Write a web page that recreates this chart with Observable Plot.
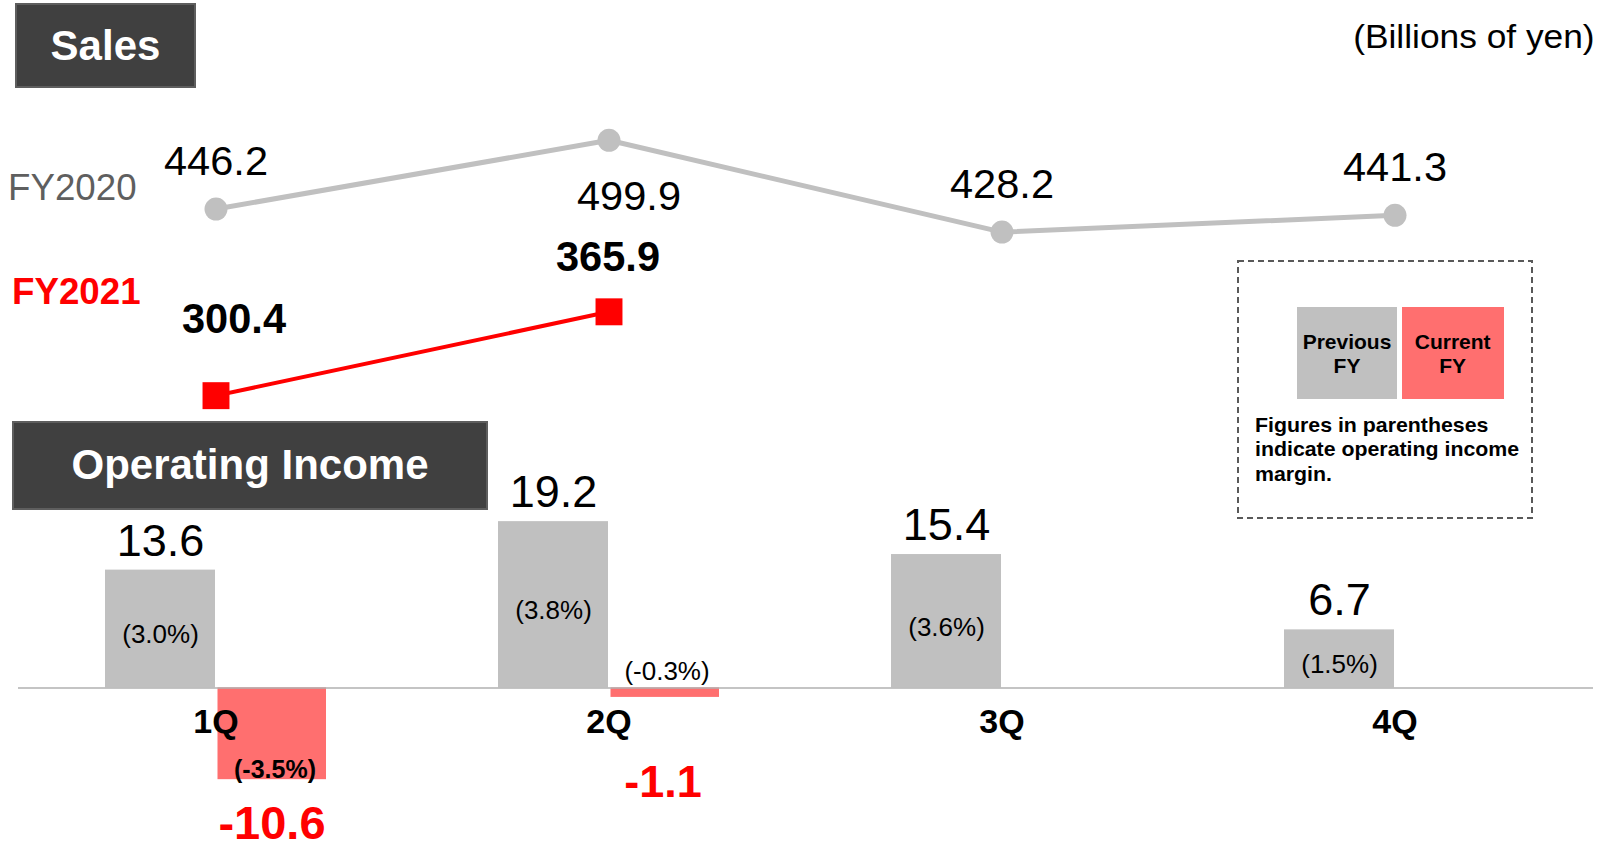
<!DOCTYPE html>
<html>
<head>
<meta charset="utf-8">
<script src="https://cdn.jsdelivr.net/npm/d3@7"></script>
<script src="https://cdn.jsdelivr.net/npm/@observablehq/plot@0.6"></script>
<style>
  body { margin: 0; background: #fff; font-family: "Liberation Sans", Arial, sans-serif; }
  #wrap { position: relative; width: 1604px; height: 850px; overflow: hidden; background: #fff; }
  #wrap svg.plot { position: absolute; left: 0; }
  .tag { position: absolute; box-sizing: border-box; background: #404040; border: 2px solid #5e5e5e;
         color: #fff; font-weight: bold; font-size: 42px; line-height: 1;
         display: flex; align-items: center; justify-content: center; }
  .note { position: absolute; line-height: 1; white-space: nowrap; }
  .swatch { position: absolute; box-sizing: border-box; display: flex; align-items: center; justify-content: center;
            text-align: center; font-weight: bold; font-size: 21px; line-height: 24px; color: #000; }
</style>
</head>
<body>
<div id="wrap"></div>
<script>
// ---------- data ----------
const quarters = ["1Q", "2Q", "3Q", "4Q"];
const salesPrev = [446.2, 499.9, 428.2, 441.3];      // FY2020
const salesCur = [300.4, 365.9];                      // FY2021
const oiPrev = [13.6, 19.2, 15.4, 6.7];               // FY2020 operating income
const oiCur = [-10.6, -1.1];                          // FY2021 operating income
const marginPrev = ["(3.0%)", "(3.8%)", "(3.6%)", "(1.5%)"];
const marginCur = ["(-3.5%)", "(-0.3%)"];
const seriesNames = ["FY2020", "FY2021"];

// tables built from the arrays
const sPrev = salesPrev.map((v, i) => ({q: quarters[i], v}));
const sCur = salesCur.map((v, i) => ({q: quarters[i], v}));
const oPrev = oiPrev.map((v, i) => ({q: quarters[i], v, m: marginPrev[i]}));
const oCur = oiCur.map((v, i) => ({q: quarters[i], v, m: marginCur[i]}));

const font = "'Liberation Sans', Arial, Helvetica, sans-serif";
const xScale = {type: "band", domain: quarters, paddingInner: 0.4364, paddingOuter: 0.2178, align: 0.5, axis: null};
const common = {width: 1604, marginLeft: 18, marginRight: 11, marginTop: 0, marginBottom: 0,
  style: {fontFamily: font, background: "transparent", overflow: "visible"}};

const GRAY = "#c0c0c0", RED_BAR = "#ff6f6f", RED = "#ff0000";

// ---------- Sales ----------
const fmt = d => d.v.toFixed(1);
const salesChart = Plot.plot({
  ...common,
  height: 420,
  x: xScale,
  y: {domain: [281.0, 609.1], axis: null},
  marks: [
    Plot.line(sPrev, {x: "q", y: "v", stroke: GRAY, strokeWidth: 5}),
    Plot.dot(sPrev, {x: "q", y: "v", r: 11.5, fill: GRAY}),
    Plot.line(sCur, {x: "q", y: "v", stroke: RED, strokeWidth: 4}),
    Plot.dot(sCur, {x: "q", y: "v", r: 15.2, symbol: "square", fill: RED}),
    Plot.text(sPrev.filter(d => d.q !== "2Q"), {x: "q", y: "v", text: fmt, lineAnchor: "bottom", dy: -34, fontSize: 41, fill: "#000"}),
    Plot.text(sPrev.filter(d => d.q === "2Q"), {x: "q", y: "v", text: fmt, lineAnchor: "bottom", dx: 20, dy: 70, fontSize: 41, fill: "#000"}),
    Plot.text(sCur.filter(d => d.q === "1Q"), {x: "q", y: "v", text: fmt, lineAnchor: "bottom", dx: 18, dy: -62.8, fontSize: 42, fontWeight: "bold", fill: "#000"}),
    Plot.text(sCur.filter(d => d.q === "2Q"), {x: "q", y: "v", text: fmt, lineAnchor: "bottom", dx: -1, dy: -41.3, fontSize: 42, fontWeight: "bold", fill: "#000"})
  ]
});
salesChart.classList.add("plot");
salesChart.style.top = "0px";

// ---------- Operating income ----------
const incomeChart = Plot.plot({
  ...common,
  height: 430,
  x: xScale,
  y: {domain: [-18.78, 30.88], axis: null},
  marks: [
    Plot.barY(oPrev, {x: "q", y: "v", fill: GRAY, insetRight: 111}),
    Plot.barY(oCur, {x: "q", y: "v", fill: RED_BAR, insetLeft: 112.5}),
    Plot.ruleY([0], {stroke: "#b0b0b0", strokeWidth: 1.5}),
    Plot.text(quarters, {x: d => d, y: () => 0, text: d => d, lineAnchor: "bottom", dy: 45, fontSize: 34, fontWeight: "bold", fill: "#000"}),
    Plot.text(oPrev, {x: "q", y: "v", text: fmt, lineAnchor: "bottom", dx: -55.5, dy: -14.5, fontSize: 45, fill: "#000"}),
    Plot.text(oPrev, {x: "q", y: d => d.v / 2, text: "m", lineAnchor: "middle", dx: -55.5, dy: 6, fontSize: 26, fill: "#000"}),
    // current FY margin: inside the bar when it is tall, above the baseline when it is thin
    Plot.text(oCur.filter(d => Math.abs(d.v) > 5), {x: "q", y: "v", text: "m", lineAnchor: "middle", dx: 59, dy: -10, fontSize: 25, fontWeight: "bold", fill: "#000"}),
    Plot.text(oCur.filter(d => Math.abs(d.v) <= 5), {x: "q", y: () => 0, text: "m", lineAnchor: "middle", dx: 58, dy: -16.5, fontSize: 26, fill: "#000"}),
    Plot.text(oCur.filter(d => Math.abs(d.v) > 5), {x: "q", y: "v", text: fmt, lineAnchor: "bottom", dx: 56, dy: 59, fontSize: 47, fontWeight: "bold", fill: RED}),
    Plot.text(oCur.filter(d => Math.abs(d.v) <= 5), {x: "q", y: "v", text: fmt, lineAnchor: "bottom", dx: 54, dy: 99.7, fontSize: 45, fontWeight: "bold", fill: RED})
  ]
});
incomeChart.classList.add("plot");
incomeChart.style.top = "420px";

const wrap = document.getElementById("wrap");
wrap.appendChild(salesChart);
wrap.appendChild(incomeChart);

// the sales figures are set in a horizontally widened face
salesChart.querySelectorAll('g[aria-label="text"] text').forEach(t => {
  t.setAttribute("lengthAdjust", "spacingAndGlyphs");
  t.setAttribute("textLength", "104");
});

// ---------- headings, series names, unit, legend ----------
function add(html) { wrap.insertAdjacentHTML("beforeend", html); }
add(`<div class="tag" style="left:15px;top:3px;width:181px;height:85px;">Sales</div>`);
add(`<div class="tag" style="left:12px;top:420.5px;width:476px;height:89.5px;">Operating Income</div>`);
add(`<div class="note" style="right:9px;top:20px;font-size:33px;color:#000;transform:scaleX(1.07);transform-origin:right center;">(Billions of yen)</div>`);
add(`<div class="note" style="left:8px;top:170.2px;font-size:36px;color:#5f5f5f;transform:scaleX(1.02);transform-origin:left center;">${seriesNames[0]}</div>`);
add(`<div class="note" style="left:12px;top:273.5px;font-size:36px;color:${RED};font-weight:bold;transform:scaleX(1.02);transform-origin:left center;">${seriesNames[1]}</div>`);
add(`<svg style="position:absolute;left:1237px;top:260px;" width="297" height="260">
  <rect x="1" y="1" width="294" height="257" fill="none" stroke="#595959" stroke-width="2" stroke-dasharray="6 4"/></svg>`);
add(`<div class="swatch" style="left:1296.7px;top:307px;width:100.6px;height:92.3px;background:${GRAY};padding-top:1px;">Previous<br>FY</div>`);
add(`<div class="swatch" style="left:1401.7px;top:307px;width:102px;height:92.3px;background:${RED_BAR};padding-top:1px;">Current<br>FY</div>`);
add(`<div class="note" style="left:1255px;top:412.5px;font-size:21px;line-height:24.5px;font-weight:bold;color:#000;transform:scaleX(1.015);transform-origin:left center;">Figures in parentheses<br>indicate operating income<br>margin.</div>`);
</script>
</body>
</html>
